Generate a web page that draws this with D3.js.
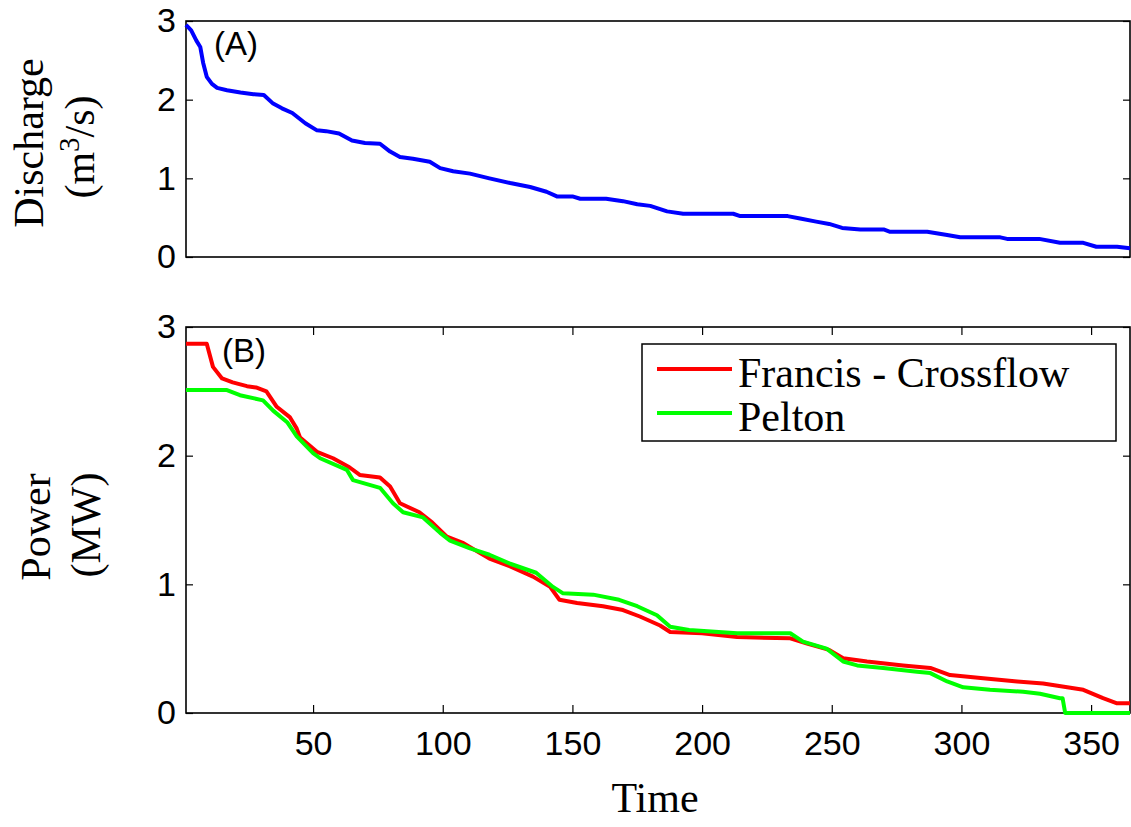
<!DOCTYPE html>
<meta charset="utf-8">
<style>
body { margin: 0; background: #fff; }
.tick text { font-family: "Liberation Sans", Arial, sans-serif; font-size: 34px; fill: #000; }
.tick line { stroke: #000; stroke-width: 1.2px; }
.frame { fill: none; stroke: #000; stroke-width: 1.6px; }
.serif { font-family: "Liberation Serif", "Times New Roman", serif; font-size: 42px; fill: #000; }
.line { fill: none; stroke-width: 4px; stroke-linejoin: round; }
</style>
<body>
<script src="https://d3js.org/d3.v7.min.js"></script>
<script>

// flow duration curve (A)
var dischargeDays = [1,3,5,6.5,7.6,9,11,13,16.8,22,27,31,34.6,38,42,47,51.5,55,60,65,70,75.8,79.7,83.5,88.5,95,99,104,110.5,118,126,133.7,140,144,150,153,163,169.5,175,180,186.5,192.7,212,214.7,233,237.8,244,249,254,261,270,272.5,286.8,294.5,299.5,315,317.6,330,338,347,352,360,365];
var dischargeValues = [2.95,2.88,2.75,2.67,2.47,2.29,2.2,2.15,2.12,2.09,2.07,2.06,1.95,1.89,1.83,1.7,1.61,1.6,1.57,1.48,1.45,1.44,1.34,1.27,1.25,1.21,1.13,1.09,1.06,1.0,0.94,0.89,0.83,0.77,0.77,0.74,0.74,0.71,0.67,0.65,0.58,0.55,0.55,0.52,0.52,0.49,0.45,0.42,0.37,0.35,0.35,0.32,0.32,0.28,0.25,0.25,0.23,0.23,0.18,0.18,0.13,0.13,0.11];

// power (B)
var francisDays = [1,9,11.4,14.9,19,24.5,28,32,36,41,43.7,45,51.5,57.7,64,68,75.8,79.7,83.5,91,96,101.6,108,118,126,134.8,141.4,145,151.8,161.8,169.5,176,183.8,187.7,200,213.5,234,240.5,249,254.4,263.6,277.5,288,295.6,308.4,321.5,331.5,347,354.6,360,365];
var francisValues = [2.87,2.87,2.69,2.6,2.57,2.54,2.53,2.5,2.38,2.3,2.21,2.14,2.03,1.98,1.91,1.85,1.83,1.76,1.63,1.56,1.48,1.37,1.32,1.2,1.14,1.06,0.98,0.88,0.855,0.83,0.8,0.75,0.68,0.63,0.62,0.59,0.58,0.54,0.49,0.425,0.4,0.37,0.35,0.295,0.27,0.245,0.23,0.18,0.115,0.075,0.075];
var peltonDays = [1,16.8,21.8,30.7,34.6,40,43.7,50,52.7,63,65.4,75.8,80.8,84.7,92.4,99,102.8,110.5,118,126,136,142.5,146.4,158,168,175,182.6,187.7,195,213.5,234,238.9,248,254.4,259.8,269.8,282.9,288,294.5,300.7,311,323.8,330.3,338,339,340,365];
var peltonValues = [2.51,2.51,2.47,2.43,2.35,2.26,2.15,2.02,1.98,1.89,1.81,1.75,1.63,1.56,1.52,1.4,1.34,1.28,1.23,1.16,1.09,0.98,0.93,0.92,0.88,0.83,0.76,0.67,0.645,0.62,0.62,0.555,0.5,0.4,0.37,0.35,0.32,0.31,0.245,0.2,0.18,0.165,0.15,0.115,0.115,0,0];

var xTicks = [50,100,150,200,250,300,350];
var yTicks = [0,1,2,3];
var seriesNames = ["Francis - Crossflow", "Pelton"];
var seriesColors = ["#ff0000", "#00ff00"];

var svg = d3.select("body").append("svg")
    .attr("width", 1131)
    .attr("height", 827);

var left = 186, right = 1130;

var x = d3.scaleLinear().domain([1, 365]).range([left, right]);
var yA = d3.scaleLinear().domain([0, 3]).range([257, 21]);
var yB = d3.scaleLinear().domain([0, 3]).range([713, 327]);

function zip(days, vals) {
  return days.map(function(d, i) { return {day: d, v: vals[i]}; });
}

function drawPanel(y, showX) {
  var top = y.range()[1], bottom = y.range()[0];
  var g = svg.append("g");

  // left y ticks with labels
  g.append("g")
      .attr("transform", "translate(" + left + ",0)")
      .call(d3.axisLeft(y).tickValues(yTicks).tickFormat(d3.format("d"))
        .tickSize(-7).tickSizeOuter(0).tickPadding(10))
      .call(function(a) { a.select(".domain").remove(); });
  // right y ticks
  g.append("g")
      .attr("transform", "translate(" + right + ",0)")
      .call(d3.axisRight(y).tickValues(yTicks).tickFormat("")
        .tickSize(-7).tickSizeOuter(0))
      .call(function(a) { a.select(".domain").remove(); });

  if (showX) {
    g.append("g")
        .attr("transform", "translate(0," + bottom + ")")
        .call(d3.axisBottom(x).tickValues(xTicks).tickFormat(d3.format("d"))
          .tickSize(-8).tickSizeOuter(0).tickPadding(18))
        .call(function(a) { a.select(".domain").remove(); });
    g.append("g")
        .attr("transform", "translate(0," + top + ")")
        .call(d3.axisTop(x).tickValues(xTicks).tickFormat("")
          .tickSize(-8).tickSizeOuter(0))
        .call(function(a) { a.select(".domain").remove(); });
  }

  g.append("rect")
      .attr("class", "frame")
      .attr("x", left).attr("y", top)
      .attr("width", right - left).attr("height", bottom - top);
  return g;
}

drawPanel(yA, false);
drawPanel(yB, true);

// (A) discharge line
var lineA = d3.line()
    .x(function(d) { return x(d.day); })
    .y(function(d) { return yA(d.v); });
svg.append("path")
    .datum(zip(dischargeDays, dischargeValues))
    .attr("class", "line")
    .attr("stroke", "#0000ff")
    .attr("d", lineA);

// (B) power lines
var lineB = d3.line()
    .x(function(d) { return x(d.day); })
    .y(function(d) { return yB(d.v); });
svg.append("path")
    .datum(zip(francisDays, francisValues))
    .attr("class", "line")
    .attr("stroke", seriesColors[0])
    .attr("d", lineB);
svg.append("path")
    .datum(zip(peltonDays, peltonValues))
    .attr("class", "line")
    .attr("stroke", seriesColors[1])
    .attr("d", lineB);

// panel letters
svg.append("text").attr("x", 214).attr("y", 55)
    .style("font-family", "Liberation Sans, Arial, sans-serif").style("font-size", "33px")
    .text("(A)");
svg.append("text").attr("x", 222).attr("y", 362)
    .style("font-family", "Liberation Sans, Arial, sans-serif").style("font-size", "33px")
    .text("(B)");

// legend
var legend = svg.append("g");
legend.append("rect")
    .attr("x", 642).attr("y", 344).attr("width", 474).attr("height", 97)
    .attr("fill", "#fff").attr("stroke", "#000").attr("stroke-width", 1.5);
seriesNames.forEach(function(name, i) {
  var ly = 369 + i * 44;
  legend.append("line")
      .attr("x1", 657).attr("x2", 732).attr("y1", ly).attr("y2", ly)
      .attr("stroke", seriesColors[i]).attr("stroke-width", 4);
  legend.append("text").attr("class", "serif")
      .attr("x", 738).attr("y", ly + 18)
      .style("white-space", "pre")
      .text(name);
});

// axis labels
var labA = svg.append("text").attr("class", "serif")
    .attr("transform", "translate(43,143) rotate(-90)")
    .attr("text-anchor", "middle");
labA.text("Discharge");
var labA2 = svg.append("text").attr("class", "serif")
    .attr("transform", "translate(94,147) rotate(-90)")
    .attr("text-anchor", "middle");
labA2.append("tspan").text("(m");
labA2.append("tspan").attr("dy", -15).style("font-size", "29px").text("3");
labA2.append("tspan").attr("dy", 15).text("/s)");

svg.append("text").attr("class", "serif")
    .attr("transform", "translate(50,527) rotate(-90)")
    .attr("text-anchor", "middle")
    .text("Power");
svg.append("text").attr("class", "serif")
    .attr("transform", "translate(100,525) rotate(-90)")
    .attr("text-anchor", "middle")
    .text("(MW)");

svg.append("text").attr("class", "serif")
    .attr("x", 655).attr("y", 812)
    .attr("text-anchor", "middle")
    .text("Time");

</script>
</body>
